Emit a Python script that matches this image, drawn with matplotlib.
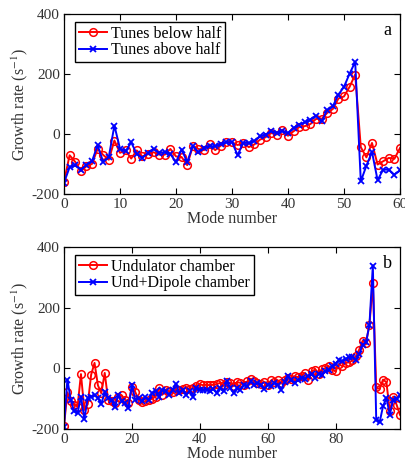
import numpy as np
import matplotlib
matplotlib.use("Agg")
import matplotlib.pyplot as plt

# panel a: tunes below / above half integer
modes_a = np.arange(61)
below_half = [-160, -71, -93, -124, -108, -100, -50, -70, -86, -22,
              -63, -55, -82, -55, -75, -68, -61, -69, -69, -50,
              -75, -77, -104, -41, -50, -54, -35, -54, -39, -27,
              -28, -37, -30, -44, -35, -19, -11, 3, -2, 14,
              -6, 9, 23, 26, 33, 50, 50, 70, 83, 118,
              125, 157, 198, -44, -78, -30, -102, -91, -80, -83,
              -47]
above_half = [-163, -111, -104, -119, -104, -91, -38, -93, -77, 28,
              -49, -58, -28, -67, -80, -63, -50, -63, -61, -67,
              -94, -52, -93, -41, -61, -47, -41, -41, -33, -28,
              -27, -71, -30, -30, -24, -8, -2, 9, 3, 9,
              3, 20, 31, 39, 48, 61, 42, 79, 92, 131,
              157, 201, 240, -158, -106, -60, -154, -119, -119, -136,
              -121]

# panel b: undulator chamber vs undulator + dipole chamber
modes_b = np.arange(100)
undulator = [-190, -79, -109, -120, -126, -19, -137, -118, -21, 18,
             -56, -82, -15, -104, -109, -115, -93, -89, -104, -115,
             -62, -78, -104, -111, -109, -104, -100, -93, -65, -87,
             -70, -76, -78, -73, -73, -68, -65, -67, -65, -59,
             -52, -56, -54, -56, -54, -52, -48, -54, -45, -48,
             -57, -45, -48, -54, -43, -35, -43, -48, -51, -45,
             -54, -40, -45, -40, -48, -37, -32, -35, -26, -29,
             -24, -15, -40, -10, -4, -18, -2, 0, 7, -4,
             -10, 14, 7, 18, 20, 26, 40, 62, 91, 84,
             144, 280, -63, -68, -37, -46, -142, -93, -120, -153]
und_dipole = [-192, -37, -104, -142, -148, -93, -167, -98, -93, -89,
              -98, -117, -79, -98, -104, -128, -87, -109, -115, -131,
              -54, -104, -98, -109, -96, -104, -81, -76, -93, -70,
              -76, -87, -70, -51, -81, -70, -87, -74, -93, -65,
              -70, -73, -70, -76, -68, -81, -65, -76, -43, -65,
              -81, -65, -70, -54, -59, -43, -54, -48, -54, -68,
              -54, -59, -48, -54, -70, -45, -24, -40, -48, -37,
              -32, -35, -24, -18, -32, -18, -21, -10, -7, 7,
              15, 26, 23, 31, 37, 37, 29, 47, 78, 86,
              144, 339, -170, -178, -125, -98, -153, -104, -100, -87]

plt.rcParams['font.family'] = ['Liberation Serif', 'DejaVu Serif']
plt.rcParams['mathtext.fontset'] = 'stix'
plt.rcParams['axes.unicode_minus'] = False

fig = plt.figure(figsize=(4.06, 4.73), dpi=100)
ax_a = fig.add_axes([0.1576, 0.590, 0.8276, 0.3805])
ax_b = fig.add_axes([0.1576, 0.093, 0.8276, 0.3848])

red = '#ff0000'
blue = '#0000ff'


def style(ax, letter, xticks, xlim):
    ax.set_xlim(*xlim)
    ax.set_ylim(-200, 400)
    ax.set_xticks(xticks)
    ax.set_yticks([-200, 0, 200, 400])
    ax.tick_params(direction='in', top=True, right=True, labelsize=11,
                   labelcolor='#333333', length=4, width=0.8, pad=3)
    ax.set_xlabel("Mode number", fontsize=11.5, color='#333333', labelpad=0)
    ax.set_ylabel("Growth rate (s$^{-1}$)", fontsize=11.5, color='#333333', labelpad=1)
    for s in ax.spines.values():
        s.set_linewidth(0.9)
    ax.text(0.975, 0.955, letter, transform=ax.transAxes, ha='right', va='top',
            fontsize=13)
    leg = ax.legend(loc='upper left', bbox_to_anchor=(0.02, 0.98), fontsize=11.5,
                    fancybox=False, framealpha=1, edgecolor='black', numpoints=1,
                    handlelength=1.8, handletextpad=0.25, borderpad=0.2,
                    labelspacing=0.05, borderaxespad=0.3)
    leg.get_frame().set_linewidth(1.0)


ax_a.plot(modes_a, below_half, '-o', color=red, lw=1.4, ms=5.5, mfc='none',
          mew=1.1, label='Tunes below half')
ax_a.plot(modes_a, above_half, '-x', color=blue, lw=1.4, ms=5, mew=1.3,
          label='Tunes above half')
style(ax_a, 'a', np.arange(0, 61, 10), (0, 60))

ax_b.plot(modes_b, undulator, '-o', color=red, lw=1.4, ms=5.5, mfc='none',
          mew=1.1, label='Undulator chamber')
ax_b.plot(modes_b, und_dipole, '-x', color=blue, lw=1.4, ms=5, mew=1.3,
          label='Und+Dipole chamber')
style(ax_b, 'b', np.arange(0, 81, 20), (0, 99))

fig.savefig("out.png", dpi=100)
